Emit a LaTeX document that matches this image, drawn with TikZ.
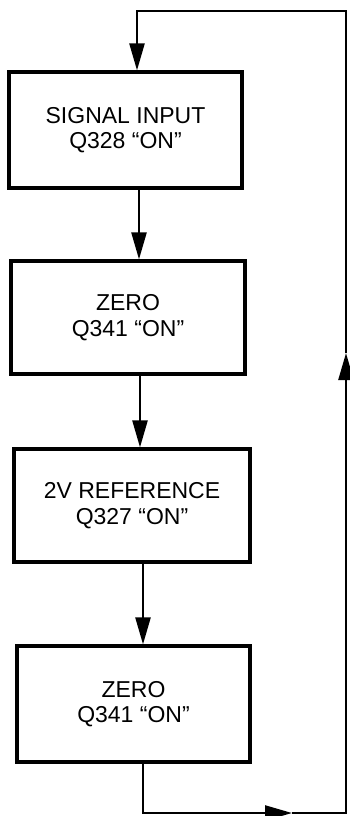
\documentclass[tikz,border=0pt]{standalone}
\usepackage{fontspec}
\setmainfont{Liberation Sans}
\usetikzlibrary{arrows.meta}
\begin{document}
\begin{tikzpicture}[x=1pt,y=-1pt,
  box/.style={draw, line width=3.2pt, inner sep=0pt, align=center,
    font=\fontsize{23}{25.5}\selectfont},
  conn/.style={line width=2.4pt},
  arr/.style={conn, -{Triangle[length=27pt,width=15pt]}}]
\useasboundingbox (0,0) rectangle (349,816);
\node[box, minimum width=233pt, minimum height=116pt] (b1) at (125.5,130) {SIGNAL INPUT\\Q328 ``ON''};
\node[box, minimum width=234pt, minimum height=113pt] (b2) at (128,317.5) {ZERO\\Q341 ``ON''};
\node[box, minimum width=236pt, minimum height=113pt] (b3) at (132,505.5) {2V REFERENCE\\Q327 ``ON''};
\node[box, minimum width=233pt, minimum height=116pt] (b4) at (133.5,704) {ZERO\\Q341 ``ON''};
\coordinate (xa) at (137,0);
\coordinate (xb) at (139,0);
\coordinate (xc) at (140,0);
\coordinate (xd) at (143,0);
\coordinate (m1) at (292,813);
\coordinate (cbr) at (346,813);
\coordinate (m2) at (346,353);
\coordinate (ctr) at (346,11);
\coordinate (ctl) at (137,11);
\draw[arr] (b1.south -| xb) -- (b2.north -| xb);
\draw[arr] (b2.south -| xc) -- (b3.north -| xc);
\draw[arr] (b3.south -| xd) -- (b4.north -| xd);
\draw[arr] (b4.south -| xd) |- (m1);
\draw[arr] (m1) -- (cbr) -- (m2);
\draw[arr] (m2) -- (ctr) -- (ctl) -- (b1.north -| xa);
\end{tikzpicture}
\end{document}
